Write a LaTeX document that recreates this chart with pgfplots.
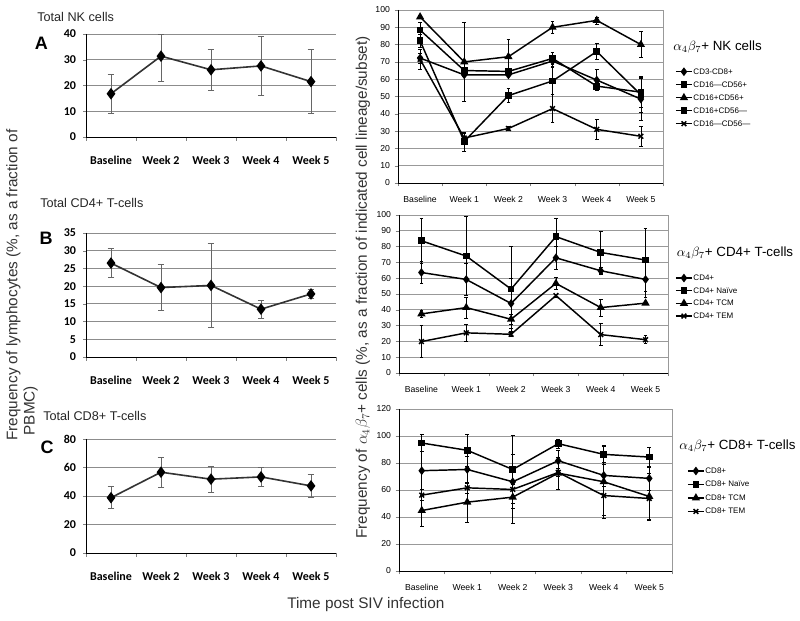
\documentclass[border=0pt]{standalone}
\usepackage{pgfplots}
\pgfplotsset{compat=1.18}
\usepackage{fontspec}
\setmainfont{Liberation Sans}
\newfontfamily\carlito{Carlito}

\pgfplotsset{
 common/.style={scale only axis, clip=false, axis line style={draw=none},
   xtick pos=left, ytick pos=left, tick align=outside, ymajorgrids, ymin=0,
   /pgf/number format/assume math mode=true},
 leftp/.style={common, width=187.5pt, xmin=-0.5, xmax=4.5, xtick={0,...,4},
   xticklabels={Baseline,Week 2,Week 3,Week 4,Week 5},
   minor xtick={-0.5,0.5,...,4.5}, major x tick style={draw=none},
   minor tick length=3pt, major tick length=2pt,
   grid style={black!45, line width=0.6pt},
   ticklabel style={font=\fontsize{9}{10}\selectfont\carlito\bfseries},
   xticklabel style={yshift=-9pt}, yticklabel style={xshift=-2pt}},
 rightp/.style={common, xmin=-0.5, xmax=5.5, xtick={0,...,5},
   xticklabels={Baseline,Week 1,Week 2,Week 3,Week 4,Week 5},
   minor xtick={-0.5,0.5,...,5.5}, major x tick style={draw=none},
   minor tick length=2.5pt, major tick length=2.5pt,
   grid style={black!40, line width=0.5pt},
   ticklabel style={font=\fontsize{6.5}{7.5}\selectfont},
   xticklabel style={yshift=-4pt},
   legend cell align=left,
   legend style={draw=none, fill=none, anchor=north west,
     font=\fontsize{6}{7}\selectfont, row sep=2pt,
     nodes={inner sep=0.6pt, text height=5pt, text depth=1.5pt},
     /tikz/every odd column/.append style={column sep=0pt}},
   legend image code/.code={\draw[mark repeat=2,mark phase=2,##1] plot coordinates {(0pt,0pt) (6pt,0pt) (12pt,0pt)};}},
 lser/.style={line width=1.2pt, color=black!80, mark=diamond*, mark size=3.4pt,
   mark options={black, solid},
   error bars/.cd, y dir=both, y explicit,
   error bar style={line width=0.6pt, black!60},
   error mark options={rotate=90, mark size=2.5pt, line width=0.6pt, black!60}},
 rser/.style={line width=1.1pt, color=black, mark options={solid, black},
   error bars/.cd, y dir=both, y explicit,
   error bar style={line width=0.45pt, black},
   error mark options={rotate=90, mark size=1.4pt, line width=0.45pt, black}},
 sdia/.style={mark=diamond*, mark size=2.4pt},
 ssq/.style={mark=square*, mark size=2pt},
 stri/.style={mark=triangle*, mark size=2.5pt},
 sx/.style={mark=x, mark size=2.5pt},
}

\begin{document}
\begin{tikzpicture}
\useasboundingbox (0,0) rectangle (600pt,465.75pt);

% ---------- Panel A ----------
\begin{axis}[leftp, at={(64.5pt,363pt)}, anchor=south west, height=77.25pt,
  ymax=40, ytick={0,10,...,40}]
\addplot[lser] coordinates {(0,16.8) +- (0,7.6) (1,31.4) += (0,8.6) -= (0,9.9) (2,26.1) +- (0,8.1) (3,27.6) +- (0,11.5) (4,21.5) +- (0,12.5)};
\draw[black, line width=0.7pt] (rel axis cs:0,1) -- (rel axis cs:0,0) -- (rel axis cs:1,0);
\end{axis}

% ---------- Panel B ----------
\begin{axis}[leftp, at={(64.5pt,198pt)}, anchor=south west, height=93pt,
  ymax=35, ytick={0,5,...,35}]
\addplot[lser] coordinates {(0,26.5) +- (0,4.1) (1,19.6) +- (0,6.4) (2,20.2) += (0,12) -= (0,11.8) (3,13.5) +- (0,2.5) (4,17.8) +- (0,1.3)};
\draw[black, line width=0.7pt] (rel axis cs:0,1) -- (rel axis cs:0,0) -- (rel axis cs:1,0);
\end{axis}

% ---------- Panel C ----------
\begin{axis}[leftp, at={(64.5pt,51pt)}, anchor=south west, height=85.5pt,
  ymax=80, ytick={0,20,...,80}]
\addplot[lser] coordinates {(0,38.8) +- (0,7.7) (1,56.7) +- (0,10.4) (2,51.8) +- (0,9.3) (3,53.4) +- (0,6.8) (4,47.1) +- (0,8.1)};
\draw[black, line width=0.7pt] (rel axis cs:0,1) -- (rel axis cs:0,0) -- (rel axis cs:1,0);
\end{axis}

% ---------- NK ----------
\begin{axis}[rightp, at={(298.5pt,328.5pt)}, anchor=south west, width=198.75pt, height=129.75pt,
  ymax=100, ytick={0,10,...,100},
  legend style={at={(axis description cs:1.03,0.69)}, row sep=2.05pt}]
\addplot[sdia,rser] coordinates {(0,72.2) +- (0,3) (1,62.5) +- (0,1) (2,62.5) +- (0,1) (3,70.5) +- (0,3) (4,59.5) +- (0,6) (5,48.5) +- (0,12)};
\addplot[ssq,rser] coordinates {(0,88.4) +- (0,4.5) (1,65) +- (0,2) (2,64.5) +- (0,1) (3,72) +- (0,3.5) (4,56) +- (0,2) (5,52.5) +- (0,9)};
\addplot[stri,rser] coordinates {(0,96) +- (0,1) (1,70) +- (0,23) (2,73) +- (0,10) (3,90) +- (0,3.5) (4,94) +- (0,2) (5,80) +- (0,7.5)};
\addplot[ssq,rser] coordinates {(0,82.2) +- (0,4) (1,24) +- (0,5.5) (2,50.5) +- (0,4) (3,59) +- (0,8) (4,76) +- (0,4.5) (5,51) +- (0,10)};
\addplot[sx,rser] coordinates {(0,71.5) +- (0,6) (1,26) +- (0,3) (2,31.5) +- (0,1) (3,43) +- (0,8) (4,31) +- (0,6) (5,27) +- (0,6)};
\legend{CD3-CD8+,CD16—CD56+,CD16+CD56+,CD16+CD56—,CD16—CD56—}
\draw[black!40, line width=0.5pt] (rel axis cs:1,0) -- (rel axis cs:1,1);
\draw[black, line width=0.6pt] (rel axis cs:0,1) -- (rel axis cs:0,0) -- (rel axis cs:1,0);
\end{axis}

% ---------- CD4 ----------
\begin{axis}[rightp, at={(299.25pt,186pt)}, anchor=south west, width=201.75pt, height=118.5pt,
  ymax=100, ytick={0,10,...,100},
  legend style={at={(axis description cs:1.011,0.652)}, row sep=1.8pt}]
\addplot[sdia,rser] coordinates {(0,63.6) +- (0,7) (1,59.2) +- (0,10) (2,44) +- (0,16) (3,72.9) +- (0,7) (4,64.7) +- (0,2.5) (5,59.2) +- (0,11.5)};
\addplot[ssq,rser] coordinates {(0,83.7) +- (0,14) (1,74) +- (0,25) (2,53.1) +- (0,27) (3,86.3) += (0,11.5) -= (0,6) (4,76.3) +- (0,13.5) (5,71.5) +- (0,20)};
\addplot[stri,rser] coordinates {(0,37.4) +- (0,2) (1,41.4) +- (0,6.5) (2,34) +- (0,3) (3,56.7) +- (0,4) (4,41.4) +- (0,5.5) (5,44.2) +- (0,1)};
\addplot[sx,rser] coordinates {(0,19.9) +- (0,10) (1,25.4) +- (0,5.5) (2,24.5) +- (0,1) (3,49) +- (0,1) (4,24.3) +- (0,7) (5,21.1) +- (0,2.5)};
\legend{CD4+,CD4+ Naïve,CD4+ TCM,CD4+ TEM}
\draw[black!40, line width=0.5pt] (rel axis cs:1,0) -- (rel axis cs:1,1);
\draw[black, line width=0.6pt] (rel axis cs:0,1) -- (rel axis cs:0,0) -- (rel axis cs:1,0);
\end{axis}

% ---------- CD8 ----------
\begin{axis}[rightp, at={(299.25pt,37.5pt)}, anchor=south west, width=204.75pt, height=121.5pt,
  ymax=120, ytick={0,20,...,120},
  legend style={at={(axis description cs:1.04,0.667)}, row sep=2.4pt}]
\addplot[sdia,rser] coordinates {(0,74.3) +- (0,14) (1,75.2) +- (0,10) (2,66.1) +- (0,20) (3,81.7) +- (0,8) (4,70.8) +- (0,8) (5,68.6) +- (0,9)};
\addplot[ssq,rser] coordinates {(0,94.8) +- (0,6.5) (1,89.4) +- (0,12) (2,75.2) +- (0,25) (3,94.3) +- (0,3.5) (4,86.4) +- (0,6) (5,84.4) +- (0,7.5)};
\addplot[stri,rser] coordinates {(0,44.8) +- (0,11.5) (1,51) +- (0,15) (2,54.7) +- (0,19.5) (3,72.5) +- (0,12) (4,66.1) +- (0,27) (5,55.2) +- (0,17)};
\addplot[sx,rser] coordinates {(0,56.2) +- (0,4) (1,61.6) +- (0,4) (2,60.4) +- (0,4) (3,73) +- (0,3) (4,55.9) +- (0,15) (5,53.7) +- (0,16)};
\legend{CD8+,CD8+ Naïve,CD8+ TCM,CD8+ TEM}
\draw[black!40, line width=0.5pt] (rel axis cs:1,0) -- (rel axis cs:1,1);
\draw[black, line width=0.6pt] (rel axis cs:0,1) -- (rel axis cs:0,0) -- (rel axis cs:1,0);
\end{axis}

% ---------- texts ----------
\node[anchor=west, inner sep=0pt, font=\fontsize{9.5}{11}\selectfont, text=black!85] at (27.75pt,453pt) {Total NK cells};
\node[font=\fontsize{13.5}{15}\selectfont\bfseries] at (31.1pt,433.5pt) {A};
\node[anchor=west, inner sep=0pt, font=\fontsize{9.5}{11}\selectfont, text=black!85] at (30pt,313.5pt) {Total CD4+ T-cells};
\node[font=\fontsize{13.5}{15}\selectfont\bfseries] at (34.5pt,287.25pt) {B};
\node[anchor=west, inner sep=0pt, font=\fontsize{9.5}{11}\selectfont, text=black!85] at (32.25pt,153.75pt) {Total CD8+ T-cells};
\node[font=\fontsize{13.5}{15}\selectfont\bfseries] at (35.25pt,130.5pt) {C};

\node[rotate=90, anchor=west, inner sep=0pt, font=\fontsize{11.5}{13}\selectfont, text=black!80] at (10pt,135pt) {Frequency of lymphocytes (\%, as a fraction of};
\node[rotate=90, anchor=west, inner sep=0pt, font=\fontsize{11.5}{13}\selectfont, text=black!80] at (23pt,139pt) {PBMC)};
\node[rotate=90, anchor=west, inner sep=0pt, font=\fontsize{11.5}{13}\selectfont, text=black!80] at (272.25pt,61.5pt) {Frequency of $\alpha_4\beta_7$+ cells (\%, as a fraction of indicated cell lineage/subset)};
\node[anchor=west, inner sep=0pt, font=\fontsize{11.5}{13}\selectfont, text=black!80] at (215.25pt,12pt) {Time post SIV infection};

\node[anchor=west, inner sep=0pt, font=\fontsize{10}{12}\selectfont] at (504.75pt,430.5pt) {$\alpha_4\beta_7$+ NK cells};
\node[anchor=west, inner sep=0pt, font=\fontsize{10}{12}\selectfont] at (507.5pt,276pt) {$\alpha_4\beta_7$+ CD4+ T-cells};
\node[anchor=west, inner sep=0pt, font=\fontsize{10}{12}\selectfont] at (509.25pt,131.25pt) {$\alpha_4\beta_7$+ CD8+ T-cells};
\end{tikzpicture}
\end{document}
